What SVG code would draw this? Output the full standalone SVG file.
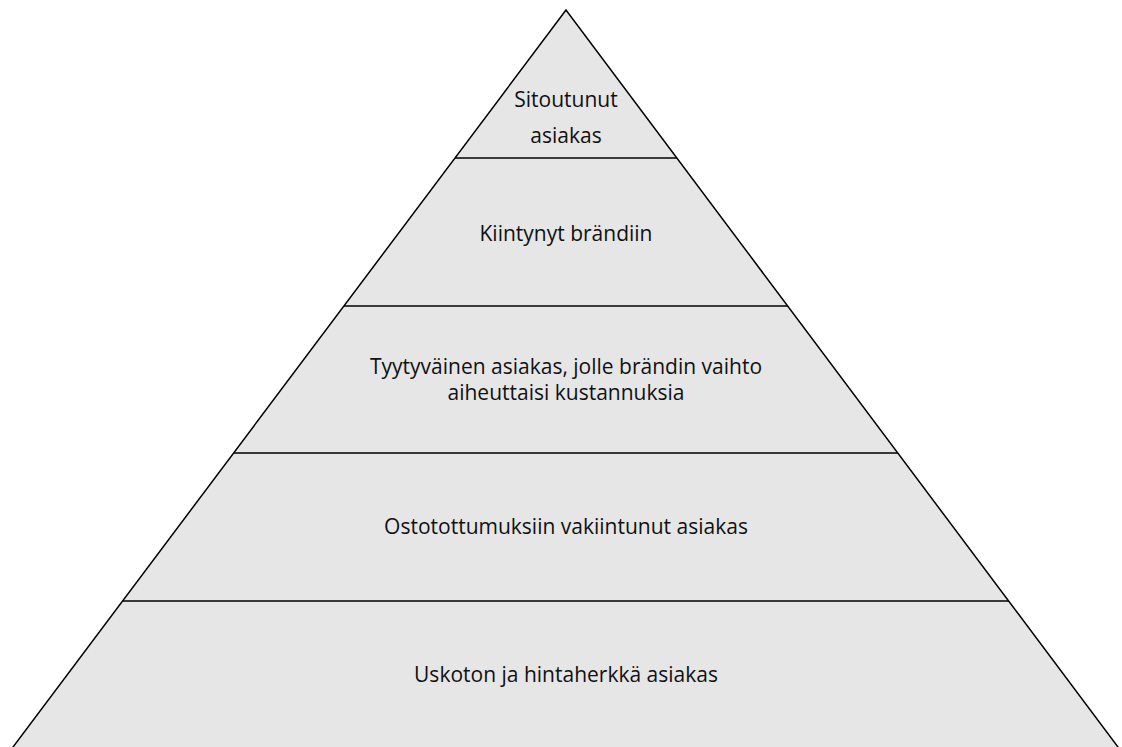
<svg xmlns="http://www.w3.org/2000/svg" width="1122" height="747" viewBox="0 0 1122 747">
<style>
.t{font-family:"Open Sans","Liberation Sans",sans-serif;font-size:21px;fill:#111;text-anchor:middle}
.d{stroke:#000;stroke-width:1.5;fill:none}
</style>
<rect width="1122" height="747" fill="#fff"/>
<g id="pyramid">
<polygon points="566,10 3.3,760 1127.7,760" fill="#e6e6e6" stroke="#000" stroke-width="1.5"/>
</g>
<g id="dividers">
<line class="d" x1="455" y1="158" x2="677" y2="158"/>
<line class="d" x1="344" y1="306" x2="788" y2="306"/>
<line class="d" x1="234" y1="453" x2="898" y2="453"/>
<line class="d" x1="123" y1="601" x2="1009" y2="601"/>
</g>
<g id="level5"><text class="t" x="566" y="107">Sitoutunut</text><text class="t" x="566" y="143">asiakas</text></g>
<g id="level4"><text class="t" x="566" y="241">Kiintynyt brändiin</text></g>
<g id="level3"><text class="t" x="566" y="374">Tyytyväinen asiakas, jolle brändin vaihto</text><text class="t" x="566" y="400">aiheuttaisi kustannuksia</text></g>
<g id="level2"><text class="t" x="566" y="534">Ostotottumuksiin vakiintunut asiakas</text></g>
<g id="level1"><text class="t" x="566" y="682">Uskoton ja hintaherkkä asiakas</text></g>
</svg>
